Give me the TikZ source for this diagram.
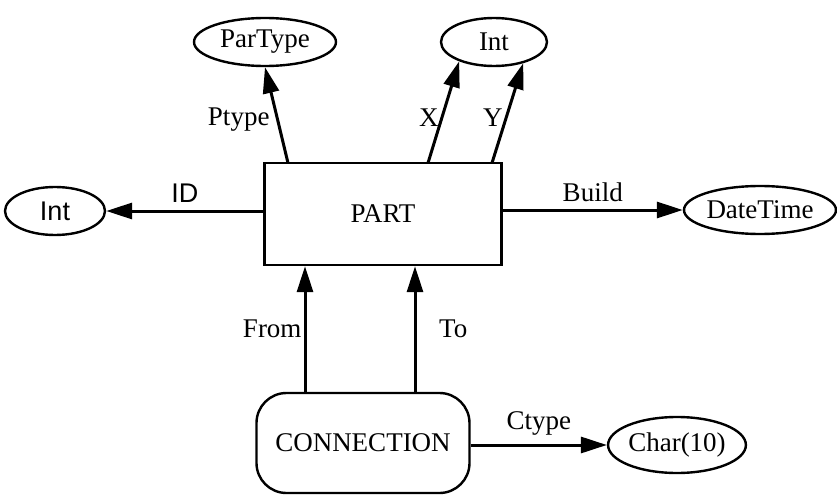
\documentclass[tikz,border=0pt]{standalone}
\usepackage{fontspec}
\setmainfont{Liberation Serif}
\setsansfont{Liberation Sans}
\usetikzlibrary{shapes.geometric,arrows.meta}

\begin{document}
\begin{tikzpicture}[x=0.5pt,y=-0.5pt,
  font=\fontsize{13.5}{15}\selectfont,
  entity/.style={draw,line width=1.2pt,minimum width=#1},
  value/.style={ellipse,draw,line width=1.2pt,inner sep=0pt,minimum height=24pt},
  link/.style={line width=1.5pt,-{Triangle[length=13pt,width=8pt]}}]
\useasboundingbox (0,0) rectangle (837,498);
\node [entity=118.5pt,minimum height=51pt] (part) at (383,214) {PART};
\node [entity=106.5pt,minimum height=50pt,rounded corners=15pt] (conn) at (363,443) {CONNECTION};
\node [value,minimum width=50pt,font=\sffamily\fontsize{13.5}{15}\selectfont] (intid) at (55,211) {Int};
\node [value,minimum width=71pt] (partype) at (265,42) {ParType};
\node [value,minimum width=53pt] (intxy) at (494,42) {Int};
\node [value,minimum width=76pt] (datetime) at (760,210) {DateTime};
\node [value,minimum width=66pt,minimum height=28pt] (char) at (677,445) {Char(10)};
\coordinate (ptfoot) at (288,163);
\coordinate (xfoot) at (428,163);
\coordinate (yfoot) at (492,163);
\coordinate (fromx) at (305,0);
\coordinate (tox) at (415,0);
% attributes of PART
\draw [link] (part.west |- intid) -- (intid.east)
  node [midway,above,font=\sffamily\fontsize{13.5}{15}\selectfont] {ID};
\draw [link] (part.east |- datetime) -- (datetime.west)
  node [midway,above] {Build};
\draw [link] (ptfoot) -- (partype.south) node [pos=0.45,left] {Ptype};
\draw [link] (xfoot) -- (intxy.209) node [pos=0.45,left,inner sep=1pt] {X};
\draw [link] (yfoot) -- (intxy.324) node [pos=0.45,left,inner sep=1pt] {Y};
% CONNECTION
\draw [link] (conn.north -| fromx) -- (part.south -| fromx) node [midway,left,inner sep=1pt] {From};
\draw [link] (conn.north -| tox) -- (part.south -| tox) node [midway,right,xshift=8pt] {To};
\draw [link] (conn.east |- char) -- (char.west) node [midway,above,yshift=1pt] {Ctype};
\end{tikzpicture}
\end{document}
